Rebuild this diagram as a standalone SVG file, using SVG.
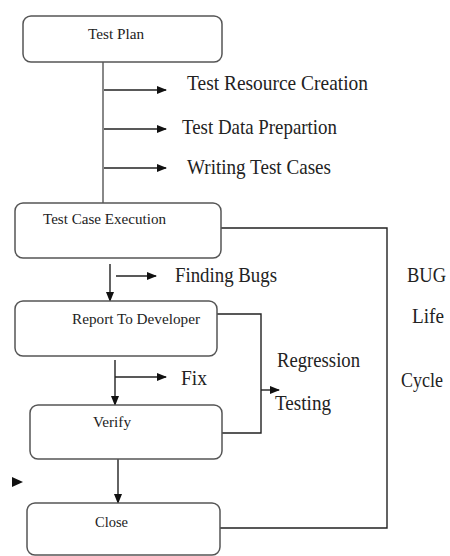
<svg xmlns="http://www.w3.org/2000/svg" width="450" height="556" viewBox="0 0 450 556">
<style>
.box{fill:#fff;stroke:#555;stroke-width:1.5}
.bl{font-family:"Liberation Serif",serif;font-size:15px;fill:#222}
.lb{font-family:"Liberation Serif",serif;font-size:21px;fill:#222}
.ln{fill:none;stroke:#222;stroke-width:1.4}
</style>
<defs>
<marker id="ah" viewBox="0 0 10 10" refX="9" refY="5" markerWidth="10" markerHeight="10" markerUnits="userSpaceOnUse" orient="auto">
<path d="M0,1 L10,5 L0,9 z" fill="#111"/>
</marker>
</defs>
<rect width="450" height="556" fill="#fff"/>
<g id="connectors">
<line x1="103" y1="62" x2="103" y2="203" stroke="#888" stroke-width="2"/>
<line class="ln" x1="104" y1="90" x2="166" y2="90" marker-end="url(#ah)"/>
<line class="ln" x1="104" y1="129" x2="166" y2="129" marker-end="url(#ah)"/>
<line class="ln" x1="104" y1="168" x2="166" y2="168" marker-end="url(#ah)"/>
<polyline class="ln" points="221,228 387,228 387,528 220,528"/>
<line class="ln" x1="110" y1="264" x2="110" y2="301" marker-end="url(#ah)"/>
<line class="ln" x1="116" y1="276" x2="156" y2="276" marker-end="url(#ah)"/>
<polyline class="ln" points="217,314 261,314 261,433 222,433"/>
<line class="ln" x1="261" y1="390" x2="279" y2="390" marker-end="url(#ah)"/>
<line class="ln" x1="115" y1="360" x2="115" y2="405" marker-end="url(#ah)"/>
<line class="ln" x1="115" y1="377" x2="166" y2="377" marker-end="url(#ah)"/>
<line class="ln" x1="118" y1="459" x2="118" y2="503" marker-end="url(#ah)"/>
<path d="M12,477 L23,482 L12,487 z" fill="#111"/>
</g>
<g id="test-plan">
<rect class="box" x="23" y="16" width="199" height="46" rx="8"/>
<text class="bl" x="88" y="39" textLength="56" lengthAdjust="spacingAndGlyphs">Test Plan</text>
</g>
<g id="test-case-execution">
<rect class="box" x="15" y="203" width="206" height="55" rx="8"/>
<text class="bl" x="43" y="224" textLength="123" lengthAdjust="spacingAndGlyphs">Test Case Execution</text>
</g>
<g id="report-to-developer">
<rect class="box" x="15" y="301" width="202" height="55" rx="8"/>
<text class="bl" x="72" y="324" textLength="128" lengthAdjust="spacingAndGlyphs">Report To Developer</text>
</g>
<g id="verify">
<rect class="box" x="30" y="405" width="192" height="54" rx="8"/>
<text class="bl" x="93" y="427" textLength="38" lengthAdjust="spacingAndGlyphs">Verify</text>
</g>
<g id="close">
<rect class="box" x="27" y="503" width="193" height="52" rx="8"/>
<text class="bl" x="95" y="527" textLength="33" lengthAdjust="spacingAndGlyphs">Close</text>
</g>
<g id="labels">
<text class="lb" x="187" y="90" textLength="181" lengthAdjust="spacingAndGlyphs">Test  Resource Creation</text>
<text class="lb" x="182" y="134" textLength="155" lengthAdjust="spacingAndGlyphs">Test Data Prepartion</text>
<text class="lb" x="187" y="174" textLength="144" lengthAdjust="spacingAndGlyphs">Writing Test Cases</text>
<text class="lb" x="175" y="282" textLength="102" lengthAdjust="spacingAndGlyphs">Finding Bugs</text>
<text class="lb" x="181" y="385" textLength="26" lengthAdjust="spacingAndGlyphs">Fix</text>
<text class="lb" x="277" y="367" textLength="83" lengthAdjust="spacingAndGlyphs">Regression</text>
<text class="lb" x="275" y="410" textLength="56" lengthAdjust="spacingAndGlyphs">Testing</text>
<text class="lb" x="407" y="282" textLength="39" lengthAdjust="spacingAndGlyphs">BUG</text>
<text class="lb" x="412" y="323" textLength="32" lengthAdjust="spacingAndGlyphs">Life</text>
<text class="lb" x="401" y="387" textLength="42" lengthAdjust="spacingAndGlyphs">Cycle</text>
</g>
</svg>
